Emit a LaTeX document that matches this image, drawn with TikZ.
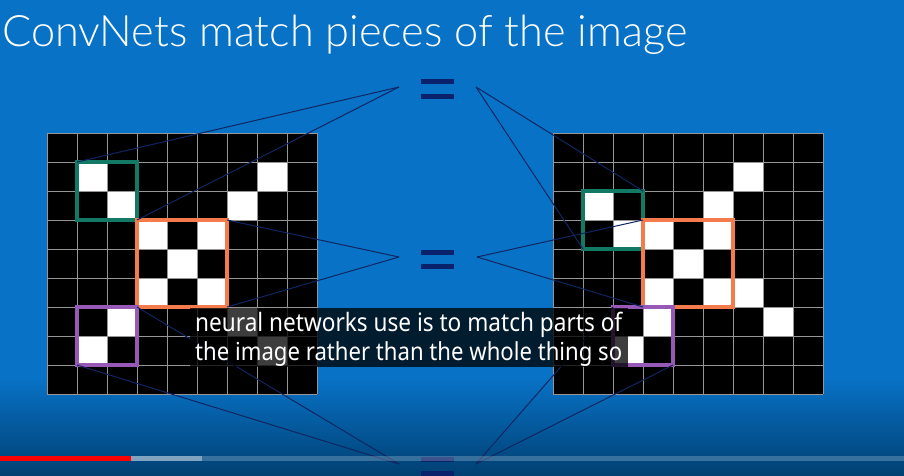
\documentclass[tikz,border=0pt]{standalone}
\usepackage{fontspec}
\setmainfont{Noto Sans}
\newfontfamily\titlefont{Lato Light}
\newfontfamily\capfont{Noto Sans}
\definecolor{bgblue}{RGB}{8,114,198}
\definecolor{bgdark}{RGB}{0,64,114}
\definecolor{navy}{RGB}{16,38,98}
\definecolor{eqnavy}{RGB}{10,34,108}
\definecolor{gridgray}{RGB}{150,150,150}
\definecolor{cgreen}{RGB}{18,122,100}
\definecolor{corange}{RGB}{244,124,76}
\definecolor{cpurple}{RGB}{150,90,182}
\begin{document}
\begin{tikzpicture}[x=1pt,y=-1pt,
  gridline/.style={draw=gridgray,line width=1pt},
  selbox/.style={line width=3.4pt,inner sep=0pt,outer sep=0pt,anchor=north west},
  smallsel/.style={selbox,minimum width=60pt,minimum height=58pt},
  bigsel/.style={selbox,minimum width=90pt,minimum height=87pt},
  conn/.style={draw=navy,line width=1pt},
  eqbar/.style={fill=eqnavy}]
\useasboundingbox (0,0) rectangle (904,475);
\fill[bgblue] (0,0) rectangle (904,475);
\shade[top color=bgblue,bottom color=bgdark] (0,378) rectangle (904,475);

% title
\node[anchor=base west,inner sep=0pt,text=white] (title) at (2,46)
  {\resizebox{685pt}{!}{\titlefont ConvNets match pieces of the image}};

% left grid
\fill[black] (47,133) rectangle ++(270,261);
\foreach \r/\c in {1/1,1/7,2/2,2/6,3/3,3/5,4/4,5/3,5/5,6/2,6/6,7/1,7/7}
  \fill[white] ({47+30*\c},{133+29*\r}) rectangle ++(30,29);
\foreach \i in {0,...,9} {
  \draw[gridline] ({47+30*\i},133) -- ++(0,261);
  \draw[gridline] (47,{133+29*\i}) -- ++(270,0);
}
% right grid
\fill[black] (553,133) rectangle ++(270,261);
\foreach \r/\c in {1/6,2/1,2/5,3/2,3/3,3/5,4/4,5/3,5/5,5/6,6/3,6/7,7/2}
  \fill[white] ({553+30*\c},{133+29*\r}) rectangle ++(30,29);
\foreach \i in {0,...,9} {
  \draw[gridline] ({553+30*\i},133) -- ++(0,261);
  \draw[gridline] (553,{133+29*\i}) -- ++(270,0);
}

% selection boxes
\node[smallsel,draw=cgreen] (gL) at (77,162) {};
\node[bigsel,draw=corange] (oL) at (137,220) {};
\node[smallsel,draw=cpurple] (pL) at (77,307) {};
\node[smallsel,draw=cgreen] (gR) at (583,191) {};
\node[bigsel,draw=corange] (oR) at (643,220) {};
\node[smallsel,draw=cpurple] (pR) at (613,307) {};

% apex coordinates
\coordinate (aTL) at (399,87);
\coordinate (aTR) at (476,87);
\coordinate (aML) at (399,257);
\coordinate (aMR) at (477,257);
\coordinate (aBL) at (399,464);
\coordinate (aBR) at (476,464);

% connectors
\draw[conn] (gL.north west) -- (aTL);
\draw[conn] (gL.south east) -- (aTL);
\draw[conn] (gR.north east) -- (aTR);
\draw[conn] (gR.south west) -- (aTR);
\draw[conn] (oL.north east) -- (aML);
\draw[conn] (oL.south east) -- (aML);
\draw[conn] (oR.north west) -- (aMR);
\draw[conn] (oR.south west) -- (aMR);
\draw[conn] (pL.north east) -- (aBL);
\draw[conn] (pL.south west) -- (aBL);
\draw[conn] (pR.north west) -- (aBR);
\draw[conn] (pR.south east) -- (aBR);

% equals signs
\fill[eqbar] (421,79) rectangle (454,84);
\fill[eqbar] (421,94) rectangle (454,99);
\fill[eqbar] (421,250) rectangle (454,255);
\fill[eqbar] (421,264) rectangle (454,269);
\fill[eqbar] (421,457) rectangle (454,462);
\fill[eqbar] (421,471) rectangle (454,476);

% caption
\fill[black,opacity=0.76] (190,308) rectangle (628,367);
\node[anchor=base west,inner sep=0pt,text=white] (cap1) at (195,331)
  {\scalebox{1}[1.12]{\resizebox{427pt}{!}{\capfont neural networks use is to match parts of}}};
\node[anchor=base west,inner sep=0pt,text=white] (cap2) at (195,360)
  {\scalebox{1}[1.12]{\resizebox{427pt}{!}{\capfont the image rather than the whole thing so}}};

% progress bar
\fill[white,opacity=0.22] (202,456) rectangle (904,461);
\fill[white,opacity=0.5] (131,456) rectangle (202,461);
\fill[red] (0,456) rectangle (131,461);
\end{tikzpicture}
\end{document}
